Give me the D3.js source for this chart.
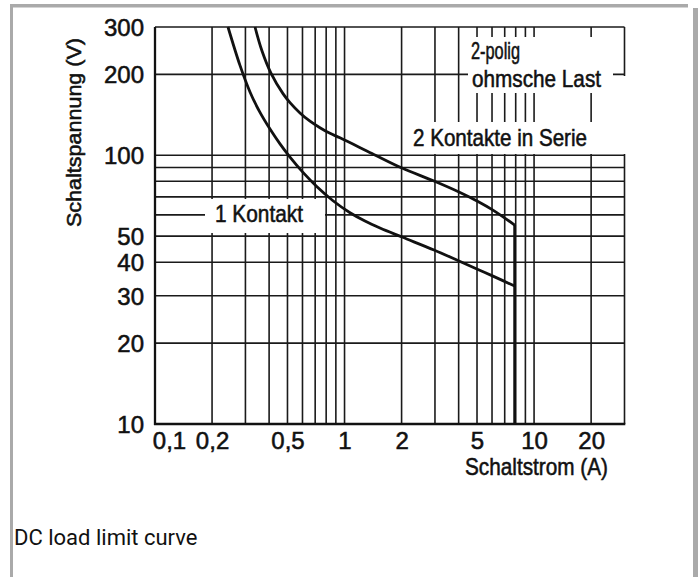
<!DOCTYPE html>
<html>
<head>
<meta charset="utf-8">
<script src="https://cdn.jsdelivr.net/npm/d3@7"></script>
<style>
  html, body { margin: 0; padding: 0; background: #fff; }
  svg { display: block; }
  .lbl { font-family: "Liberation Sans", Arial, sans-serif; fill: #111; stroke: #111; stroke-width: 0.55px; }
</style>
</head>
<body>
<svg id="chart" width="698" height="577"></svg>
<script>
var width = 698;
var height = 577;

// axis ticks (labels as printed, German decimal comma)
var xTickVals = [0.1, 0.2, 0.5, 1, 2, 5, 10, 20];
var xTickLabels = ["0,1", "0,2", "0,5", "1", "2", "5", "10", "20"];
var yTickVals = [10, 20, 30, 40, 50, 100, 200, 300];
var yTickLabels = ["10", "20", "30", "40", "50", "100", "200", "300"];

// grid lines
var xGrid = [0.2, 0.3, 0.4, 0.5, 0.6, 0.7, 0.8, 0.9, 1, 2, 3, 4, 5, 6, 7, 8, 9, 10, 20];
var yGrid = [20, 30, 40, 50, 60, 70, 80, 90, 100, 200];

// 2 Kontakte in Serie (upper curve)
var serieI = [0.337, 0.367, 0.409, 0.4735, 0.5155, 0.582, 0.6572, 0.742, 0.8381, 0.9462, 1.396, 2.01, 2.965, 4.016, 5.058, 6.07, 7.9];
var serieU = [300, 244.3, 202.2, 169.5, 156.9, 143.7, 133.9, 126.6, 120.6, 116.1, 101.5, 89.6, 80.2, 73.0, 67.3, 62.5, 55.0];
// 1 Kontakt (lower curve)
var kontaktI = [0.2427, 0.2808, 0.3171, 0.3581, 0.4044, 0.4565, 0.5155, 0.6037, 0.7154, 0.8692, 1.069, 1.282, 1.538, 2.01, 2.965, 4.016, 5.058, 6.07, 7.9];
var kontaktU = [300, 215.9, 172.0, 144.3, 125.1, 110.2, 98.4, 86.3, 76.3, 67.7, 61.1, 56.9, 53.6, 49.6, 44.4, 40.4, 37.6, 35.5, 32.6];
// current limit (vertical part of the envelope)
var limitI = 7.9;

var x = d3.scaleLog().domain([0.1, 30]).range([155, 624.5]);
var y = d3.scaleLog().domain([10, 300]).range([424, 27]);

var svg = d3.select('#chart');
svg.append('rect').attr('width', width).attr('height', height).attr('fill', '#fff');

// grey frame around the picture
var frame = svg.append('g').attr('fill', '#aaaaaa');
frame.append('rect').attr('x', 10).attr('y', 4).attr('width', 678).attr('height', 3.5);
frame.append('rect').attr('x', 10).attr('y', 4).attr('width', 3).attr('height', height);
frame.append('rect').attr('x', 693).attr('y', 8).attr('width', 5).attr('height', height);

var grid = svg.append('g').attr('stroke', '#1a1a1a').attr('stroke-width', 1.6);
grid.selectAll('line.v')
    .data(xGrid.concat([30]))
    .enter()
    .append('line')
    .attr('x1', d => x(d)).attr('x2', d => x(d))
    .attr('y1', y(300)).attr('y2', y(10));
grid.selectAll('line.h')
    .data(yGrid.concat([300]))
    .enter()
    .append('line')
    .attr('x1', x(0.1)).attr('x2', x(30))
    .attr('y1', d => y(d)).attr('y2', d => y(d));

// white backgrounds behind the in-chart labels
var boxes = [
    [205, 199, 120, 34],
    [468, 37, 145, 56],
    [405, 122, 223, 32],
    [614, 76, 14, 46]
];
svg.append('g').selectAll('rect')
    .data(boxes)
    .enter()
    .append('rect')
    .attr('x', d => d[0]).attr('y', d => d[1])
    .attr('width', d => d[2]).attr('height', d => d[3])
    .attr('fill', '#fff');

// axis lines
svg.append('line').attr('x1', x(0.1)).attr('x2', x(0.1)).attr('y1', y(300)).attr('y2', y(10) + 1)
    .attr('stroke', '#111').attr('stroke-width', 2.3);
svg.append('line').attr('x1', x(0.1) - 1).attr('x2', x(30) + 0.8).attr('y1', y(10)).attr('y2', y(10))
    .attr('stroke', '#111').attr('stroke-width', 2.3);

// curves
var line = d3.line()
    .x(d => x(d[0]))
    .y(d => y(d[1]))
    .curve(d3.curveCatmullRom.alpha(0.5));
var serie = serieI.map((v, i) => [v, serieU[i]]);
var kontakt = kontaktI.map((v, i) => [v, kontaktU[i]]);

var curves = svg.append('g').attr('fill', 'none').attr('stroke', '#111').attr('stroke-width', 2.8);
curves.append('path').attr('d', line(serie));
curves.append('path').attr('d', line(kontakt));
curves.append('path')
    .attr('d', d3.line().x(d => x(d[0])).y(d => y(d[1]))([[limitI, serieU[serieU.length - 1]], [limitI, 10]]));

// axes with labels only
var yAxis = svg.append('g')
    .attr('transform', 'translate(' + x(0.1) + ',0)')
    .call(d3.axisLeft(y).tickValues(yTickVals).tickSize(0).tickPadding(11)
        .tickFormat((d, i) => yTickLabels[i]));
yAxis.select('.domain').remove();
yAxis.selectAll('text').attr('class', 'lbl').style('font-size', '24px').attr('dy', '0.36em');

var xAxis = svg.append('g')
    .attr('transform', 'translate(0,' + y(10) + ')')
    .call(d3.axisBottom(x).tickValues(xTickVals).tickSize(0).tickPadding(8)
        .tickFormat((d, i) => xTickLabels[i]));
xAxis.select('.domain').remove();
xAxis.selectAll('text').attr('class', 'lbl').style('font-size', '24px');
xAxis.select('text').attr('x', 14);

// titles and annotations
svg.append('text').attr('class', 'lbl')
    .attr('transform', 'translate(81,132.5) rotate(-90)')
    .attr('text-anchor', 'middle')
    .attr('textLength', 189).attr('lengthAdjust', 'spacingAndGlyphs')
    .style('font-size', '20px')
    .text('Schaltspannung (V)');

svg.append('text').attr('class', 'lbl')
    .attr('x', 465).attr('y', 475)
    .attr('textLength', 143).attr('lengthAdjust', 'spacingAndGlyphs')
    .style('font-size', '24px')
    .text('Schaltstrom (A)');

var notes = [
    ['1 Kontakt', 215, 222, 88],
    ['2-polig', 471, 59, 49],
    ['ohmsche Last', 472, 87, 129],
    ['2 Kontakte in Serie', 413, 146, 174]
];
svg.append('g').selectAll('text')
    .data(notes)
    .enter()
    .append('text')
    .attr('class', 'lbl')
    .attr('x', d => d[1]).attr('y', d => d[2])
    .attr('textLength', d => d[3]).attr('lengthAdjust', 'spacingAndGlyphs')
    .style('font-size', '24px')
    .text(d => d[0]);

svg.append('text')
    .attr('x', 14).attr('y', 545)
    .style('font-family', 'Roboto, sans-serif').style('font-size', '22px').attr('fill', '#111')
    .text('DC load limit curve');
</script>
</body>
</html>
